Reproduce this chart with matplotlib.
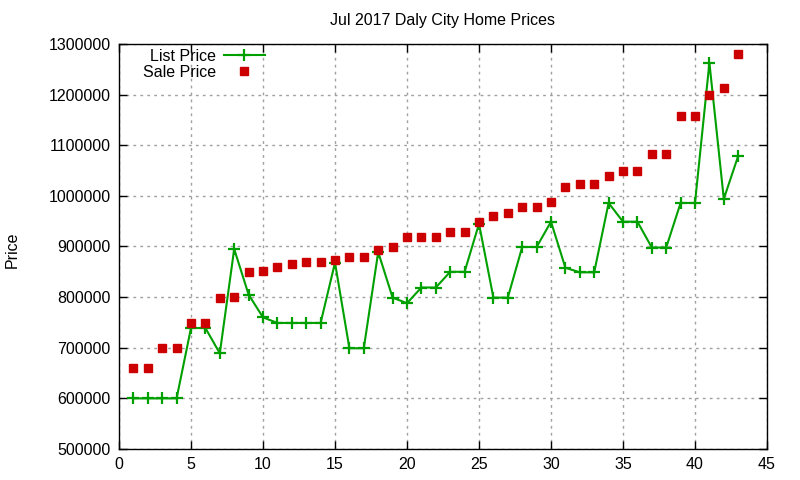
import matplotlib
matplotlib.use("Agg")
import matplotlib.pyplot as plt
from matplotlib.ticker import MultipleLocator, FuncFormatter

plt.rcParams['font.family'] = ['Liberation Sans', 'DejaVu Sans']

idx = list(range(1, 44))
list_price = [600000, 600000, 600000, 600000, 739000, 739000, 689000, 895000, 805000, 760000,
              749000, 749000, 749000, 749000, 868000, 699000, 699000, 889000, 799000, 788000,
              819000, 819000, 850000, 850000, 945000, 799000, 799000, 899000, 899000, 949000,
              858000, 849000, 849000, 986000, 949000, 949000, 898000, 898000, 986000, 986000,
              1263000, 994000, 1079000]
sale_price = [660000, 660000, 700000, 700000, 749000, 749000, 799000, 800000, 850000, 852000,
              860000, 866000, 870000, 870000, 874000, 880000, 880000, 894000, 899000, 919000,
              919000, 919000, 929000, 929000, 949000, 961000, 967000, 979000, 979000, 988000,
              1018000, 1024000, 1024000, 1040000, 1050000, 1050000, 1083000, 1083000, 1158000, 1158000,
              1199000, 1214000, 1281000]

title = "Jul 2017 Daly City Home Prices"
fs = 11.5

fig = plt.figure(figsize=(8, 4.8), dpi=100)
ax = fig.add_axes([119/800, 1-449/480, (767-119)/800, (449-44)/480])

ax.plot(idx, list_price, color='#00a000', lw=1.5, marker='+', ms=8, mew=1.6, label='List Price', zorder=3)
ax.plot(idx, sale_price, ls='none', marker='s', color='#cc0000', ms=5.5, label='Sale Price', zorder=4)

ax.set_xlim(0, 45)
ax.set_ylim(500000, 1300000)
ax.xaxis.set_major_locator(MultipleLocator(5))
ax.yaxis.set_major_locator(MultipleLocator(100000))
ax.yaxis.set_major_formatter(FuncFormatter(lambda v, p: f"{int(round(v))}"))
ax.tick_params(direction='in', top=True, right=True, length=6, width=1, labelsize=fs, colors='black', pad=6)
ax.grid(True, color='#a0a0a0', ls=(0, (2, 3)), lw=1)
ax.set_axisbelow(True)
for s in ax.spines.values():
    s.set_linewidth(1)

fig.text(443/800, 1-20/480, title, ha='center', va='center', fontsize=fs)
fig.text(12/800, 1-250/480, 'Price', rotation=90, ha='center', va='center', fontsize=fs)

leg = ax.legend(loc='upper left', bbox_to_anchor=(0.0216, 1.012), frameon=False, markerfirst=False,
                fontsize=fs, handlelength=2.6, handletextpad=0.5, labelspacing=0.05,
                borderaxespad=0.2)
fig.savefig('out.png', dpi=100)
